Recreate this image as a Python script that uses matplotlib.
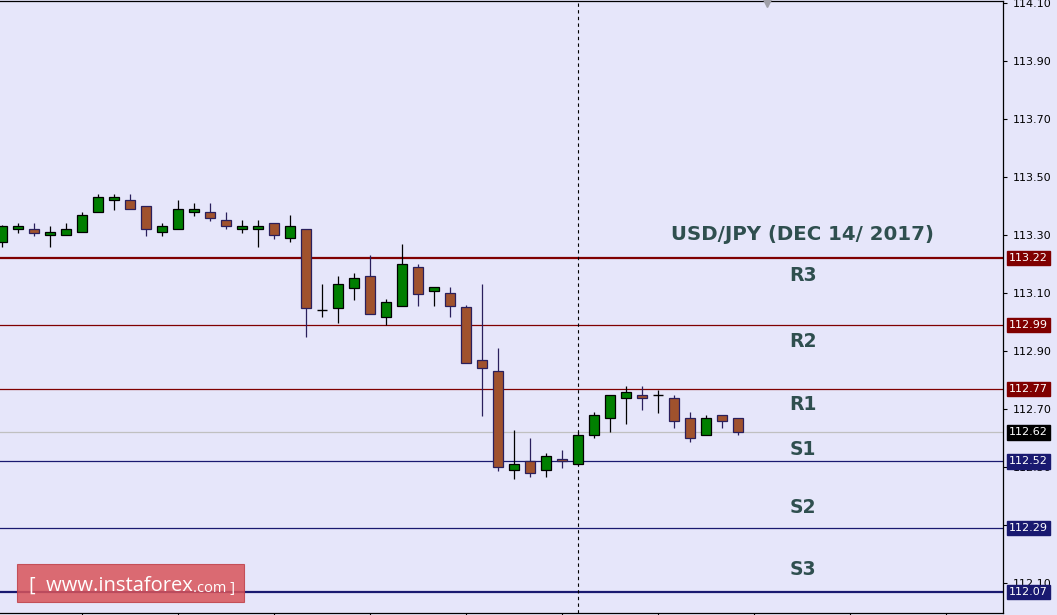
import matplotlib
matplotlib.use("Agg")
import matplotlib.pyplot as plt
import matplotlib.transforms as mtransforms
from matplotlib.patches import Rectangle
from matplotlib.text import Annotation

# USD/JPY hourly candles
opens = [113.277, 113.320, 113.320, 113.299, 113.299, 113.309, 113.378, 113.420, 113.420, 113.399,
         113.309, 113.320, 113.378, 113.378, 113.351, 113.320, 113.320, 113.340, 113.289, 113.320,
         113.040, 113.049, 113.118, 113.158, 113.018, 113.056, 113.189, 113.108, 113.099, 113.051,
         112.868, 112.830, 112.489, 112.520, 112.489, 112.527, 112.509, 112.609, 112.668, 112.737,
         112.747, 112.748, 112.737, 112.668, 112.609, 112.678, 112.668]
highs = [113.335, 113.340, 113.342, 113.331, 113.342, 113.379, 113.441, 113.441, 113.441, 113.399,
         113.341, 113.421, 113.410, 113.410, 113.379, 113.351, 113.351, 113.340, 113.369, 113.320,
         113.131, 113.159, 113.169, 113.231, 113.079, 113.269, 113.200, 113.120, 113.121, 113.058,
         113.131, 112.910, 112.628, 112.600, 112.548, 112.559, 112.620, 112.690, 112.747, 112.779,
         112.779, 112.767, 112.748, 112.690, 112.678, 112.678, 112.668]
lows = [113.260, 113.308, 113.298, 113.260, 113.299, 113.309, 113.378, 113.387, 113.389, 113.298,
        113.298, 113.320, 113.367, 113.349, 113.320, 113.308, 113.260, 113.287, 113.277, 112.947,
        113.018, 112.998, 113.076, 113.029, 112.989, 113.056, 113.056, 113.056, 113.018, 112.858,
        112.677, 112.488, 112.458, 112.467, 112.467, 112.498, 112.507, 112.599, 112.620, 112.647,
        112.698, 112.687, 112.636, 112.587, 112.609, 112.636, 112.609]
closes = [113.331, 113.331, 113.308, 113.310, 113.320, 113.369, 113.431, 113.430, 113.389, 113.320,
          113.330, 113.389, 113.389, 113.360, 113.330, 113.330, 113.330, 113.299, 113.330, 113.049,
          113.040, 113.130, 113.151, 113.029, 113.068, 113.199, 113.098, 113.120, 113.056, 112.858,
          112.840, 112.499, 112.509, 112.478, 112.537, 112.520, 112.609, 112.678, 112.747, 112.758,
          112.737, 112.748, 112.658, 112.599, 112.668, 112.658, 112.620]

# pivot levels
level_names = ["R3", "R2", "R1", "S1", "S2", "S3"]
level_values = [113.22, 112.99, 112.77, 112.52, 112.29, 112.07]
current_price = 112.62
title_text = "USD/JPY (DEC 14/ 2017)"

y_ticks = [112.10, 112.30, 112.50, 112.70, 112.90, 113.10, 113.30, 113.50, 113.70, 113.90, 114.10]

# layout / style
bg = "#e6e6fa"
bull_color = "#007f00"
bear_color = "#a0522d"
bear_edge = "#2a1f5c"
res_color = "#800000"
sup_color = "#191970"
text_color = "#2f4f4f"
level_widths = [1.6, 0.9, 0.9, 0.9, 0.9, 1.6]
label_y = [113.159, 112.934, 112.717, 112.562, 112.362, 112.148]
label_x = 50.06
session_line_idx = 36

fig = plt.figure(figsize=(10.57, 6.15), dpi=100)
fig.patch.set_facecolor(bg)
ax = fig.add_axes([0, 2 / 615, 1003 / 1057, 612 / 615])
ax.set_facecolor(bg)

body_w = 0.62
for i in range(len(opens)):
    o, h, l, c = opens[i], highs[i], lows[i], closes[i]
    up = c >= o
    wick_col = "black" if up else bear_edge
    ax.vlines(i, l, h, color=wick_col, linewidth=0.9, zorder=3)
    if abs(c - o) < 0.002:
        ax.hlines(o, i - body_w / 2, i + body_w / 2, color=wick_col, linewidth=1.0, zorder=4)
    else:
        ax.bar(i, abs(c - o), bottom=min(o, c), width=body_w,
               color=bull_color if up else bear_color,
               edgecolor="black" if up else bear_edge, linewidth=0.9, zorder=4)

# support / resistance lines
for name, val, lw in zip(level_names, level_values, level_widths):
    col = res_color if name.startswith("R") else sup_color
    ax.axhline(val, color=col, linewidth=lw, zorder=2)
ax.axhline(current_price, color="#c0c0c0", linewidth=0.9, zorder=1)

# session separator
ax.axvline(session_line_idx, color="black", linewidth=0.8, linestyle=(0, (3, 3)), zorder=2)

# small marker at top
ax.plot([47.8], [114.10], marker="v", color="#a0a0a8", markersize=6, clip_on=False, zorder=5)

ax.set_xlim(-0.125, 62.5625)
ax.set_ylim(111.997, 114.107)

# level labels and title
for name, ly in zip(level_names, label_y):
    ax.text(label_x, ly, name, ha="center", va="center", fontsize=13.5, fontweight="bold",
            color=text_color, family="DejaVu Sans", zorder=6)
ax.text(label_x, 113.303, title_text, ha="center", va="center", fontsize=14.2,
        fontweight="bold", color=text_color, family="DejaVu Sans", zorder=6)

# axes styling
ax.yaxis.tick_right()
ax.set_yticks(y_ticks)
ax.set_yticklabels([f"{t:.2f}" for t in y_ticks])
ax.tick_params(axis="y", direction="out", length=3, width=0.8, labelsize=8, pad=4, colors="black")
ax.set_xticks(list(range(5, 62, 6)))
ax.set_xticklabels([])
ax.tick_params(axis="x", direction="out", length=3, width=0.8)
ax.spines["left"].set_visible(False)
for s in ["top", "right", "bottom"]:
    ax.spines[s].set_linewidth(0.9)

# price boxes on the right axis
trans = mtransforms.blended_transform_factory(ax.transAxes, ax.transData)
box_items = [(v, res_color if n.startswith("R") else sup_color) for n, v in zip(level_names, level_values)]
box_items.append((current_price, "black"))
for val, col in box_items:
    ax.text(1.006, val, f"{val:.2f}", transform=trans, ha="left", va="center", fontsize=8,
            color="white", clip_on=False, zorder=10,
            bbox=dict(boxstyle="square,pad=0.2", facecolor=col, edgecolor=col))

# watermark
fig.add_artist(Rectangle((17 / 1057, 13 / 615), 227 / 1057, 38 / 615, transform=fig.transFigure,
                         facecolor="#d9545a", edgecolor="#c04048", alpha=0.85, linewidth=0.8, zorder=20))
t1 = fig.text(29 / 1057, 24 / 615, "[  www.instaforex", color="white", fontsize=14.5,
              family="Open Sans", ha="left", va="baseline", zorder=21)
com = Annotation(".com ]", xy=(1, 0), xycoords=t1, xytext=(0.5, 0), textcoords="offset points",
                 color="white", fontsize=10.5, family="Open Sans", va="bottom", ha="left",
                 annotation_clip=False)
com.set_zorder(22)
fig.add_artist(com)

fig.savefig("out.png", dpi=100, facecolor=bg)
